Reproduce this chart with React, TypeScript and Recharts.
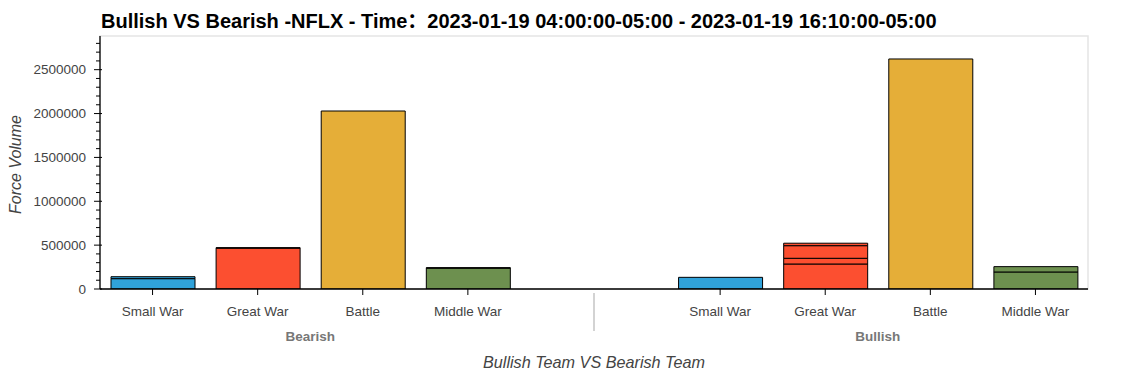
import React from "react";
import { ComposedChart, Bar, Cell, XAxis, YAxis, ReferenceArea } from "recharts";

const title = "Bullish VS Bearish -NFLX - Time：2023-01-19 04:00:00-05:00 - 2023-01-19 16:10:00-05:00";
const xAxisTitle = "Bullish Team VS Bearish Team";
const yAxisTitle = "Force Volume";

const categories = ["Small War", "Great War", "Battle", "Middle War"];
const teams = ["Bearish", "Bullish"];
const categoryColors = ["#30a2da", "#fc4f30", "#e5ae38", "#6d904f"];

// stacked segments per category (bottom to top)
const bearishSegments = [
  [118000, 22000],
  [466000, 5000],
  [2029000],
  [238000, 5000],
];
const bullishSegments = [
  [133000],
  [285000, 65000, 144000, 28000],
  [2622000],
  [194000, 61000],
];

const yMajorTicks = [0, 500000, 1000000, 1500000, 2000000, 2500000];
const yAllTicks = [
  0, 100000, 200000, 300000, 400000, 500000, 600000, 700000, 800000, 900000,
  1000000, 1100000, 1200000, 1300000, 1400000, 1500000, 1600000, 1700000, 1800000, 1900000,
  2000000, 2100000, 2200000, 2300000, 2400000, 2500000, 2600000, 2700000, 2800000,
];
const yMax = 2884000;

const GROUP_PAD = 1.4;
const segKeys = ["s0", "s1", "s2", "s3"];

const teamSegments = [bearishSegments, bullishSegments];
const groupWidth = categories.length + GROUP_PAD;
const xMax = categories.length * teams.length + GROUP_PAD * (teams.length - 1);

const rows = teams.flatMap((team, t) =>
  categories.map((category, i) => {
    const row: any = { team, category, ci: i, pos: t * groupWidth + i + 0.5 };
    segKeys.forEach((k, s) => {
      const v = teamSegments[t][i][s];
      row[k] = v === undefined ? null : v;
    });
    return row;
  })
);

const catTicks = rows.map((r) => r.pos);
const groupCenters = teams.map((_, t) => t * groupWidth + categories.length / 2);
const separators = teams.slice(1).map((_, t) => (t + 1) * groupWidth - GROUP_PAD / 2);
const groupTicks = [...groupCenters, ...separators];

const FONT = "'Liberation Sans', Arial, Helvetica, 'Noto Sans CJK SC', sans-serif";

const CategoryTick = (props: any) => {
  const { x, y, payload } = props;
  const row = rows.find((r) => Math.abs(r.pos - payload.value) < 1e-6);
  return (
    <g>
      <line x1={x} x2={x} y1={y} y2={y + 6} stroke="#000" strokeWidth={1} />
      <text x={x} y={y + 26.5} textAnchor="middle" fontSize={13.5} fill="#444" fontFamily={FONT}>
        {row ? row.category : ""}
      </text>
    </g>
  );
};

const GroupTick = (props: any) => {
  const { x, y, payload } = props;
  const gi = groupCenters.findIndex((c) => Math.abs(c - payload.value) < 1e-6);
  if (gi >= 0) {
    return (
      <text x={x} y={y + 16} textAnchor="middle" fontSize={13.5} fontWeight="bold" fill="#777" fontFamily={FONT}>
        {teams[gi]}
      </text>
    );
  }
  return <line x1={x} x2={x} y1={y - 32} y2={y + 6} stroke="#d3d3d3" strokeWidth={2} />;
};

const YTick = (props: any) => {
  const { x, y, payload } = props;
  const major = yMajorTicks.includes(payload.value);
  if (!major) {
    return <line x1={x - 4} x2={x} y1={y} y2={y} stroke="#000" strokeWidth={1} />;
  }
  return (
    <g>
      <line x1={x - 6} x2={x + 2} y1={y} y2={y} stroke="#000" strokeWidth={1} />
      <text x={x - 14} y={y + 4.5} textAnchor="end" fontSize={13.5} fill="#444" fontFamily={FONT}>
        {String(payload.value)}
      </text>
    </g>
  );
};

const YLabel = (props: any) => {
  const vb = props.viewBox || {};
  const cx = (vb.x || 0) + 15;
  const cy = (vb.y || 0) + (vb.height || 0) / 2 + 2;
  return (
    <text
      x={cx}
      y={cy}
      transform={`rotate(-90, ${cx}, ${cy})`}
      textAnchor="middle"
      dominantBaseline="central"
      fontSize={16}
      fontStyle="italic"
      fill="#444"
      fontFamily={FONT}
    >
      {yAxisTitle}
    </text>
  );
};

const XLabel = (props: any) => {
  const vb = props.viewBox || {};
  const cx = (vb.x || 0) + (vb.width || 0) / 2;
  const cy = (vb.y || 0) + 43;
  return (
    <text x={cx} y={cy} textAnchor="middle" fontSize={16.2} fontStyle="italic" fill="#444" fontFamily={FONT}>
      {xAxisTitle}
    </text>
  );
};

export default function App() {
  return (
    <div style={{ position: "absolute", left: 0, top: 0, width: 1125, height: 375, background: "#fff" }}>
      <div
        style={{
          position: "absolute",
          left: 101,
          top: 10.5,
          fontFamily: FONT,
          fontWeight: "bold",
          fontSize: 20,
          lineHeight: "20px",
          color: "#000",
          whiteSpace: "pre",
        }}
      >
        {title}
      </div>
      <ComposedChart
        width={1125}
        height={375}
        data={rows}
        margin={{ top: 36, right: 37, left: 0, bottom: 0 }}
        style={{ fontFamily: FONT }}
      >
        <ReferenceArea x1={0} x2={xMax} y1={0} y2={yMax} fill="none" stroke="#e5e5e5" strokeWidth={1.5} ifOverflow="extendDomain" />
        <XAxis
          dataKey="pos"
          type="number"
          domain={[0, xMax]}
          allowDataOverflow
          ticks={catTicks}
          interval={0}
          tick={<CategoryTick />}
          tickLine={false}
          tickSize={0}
          tickMargin={0}
          height={36}
          axisLine={{ stroke: "#000", strokeWidth: 1.3 }}
        />
        <XAxis
          xAxisId="group"
          dataKey="pos"
          type="number"
          domain={[0, xMax]}
          allowDataOverflow
          ticks={groupTicks}
          interval={0}
          tick={<GroupTick />}
          tickLine={false}
          tickSize={0}
          tickMargin={0}
          height={50}
          axisLine={false}
          label={<XLabel />}
        />
        <YAxis
          type="number"
          domain={[0, yMax]}
          allowDataOverflow
          ticks={yAllTicks}
          interval={0}
          tick={<YTick />}
          tickLine={false}
          tickSize={0}
          tickMargin={0}
          width={100}
          axisLine={{ stroke: "#000", strokeWidth: 1.3 }}
          label={<YLabel />}
        />
        {segKeys.map((k) => (
          <Bar key={k} dataKey={k} stackId="stack" barSize={84} stroke="#000" strokeWidth={1} isAnimationActive={false}>
            {rows.map((r, i) => (
              <Cell key={i} fill={categoryColors[r.ci]} />
            ))}
          </Bar>
        ))}
      </ComposedChart>
    </div>
  );
}
